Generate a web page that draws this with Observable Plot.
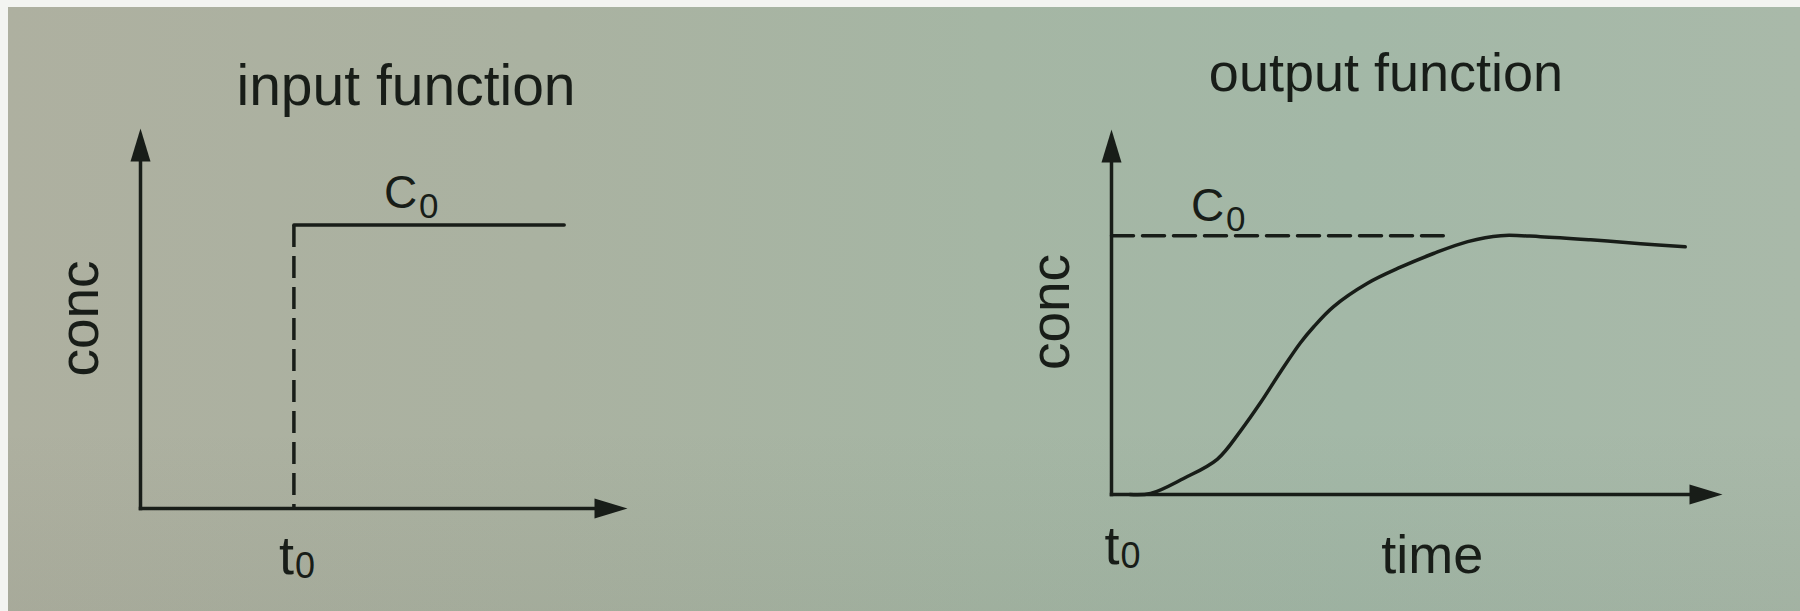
<!DOCTYPE html>
<html>
<head>
<meta charset="utf-8">
<script src="https://cdn.jsdelivr.net/npm/d3@7"></script>
<script src="https://cdn.jsdelivr.net/npm/@observablehq/plot@0.6"></script>
<style>
  html, body { margin: 0; padding: 0; background: #f3f4f0; }
  #page {
    position: relative; width: 1800px; height: 611px; overflow: hidden;
    background:
      linear-gradient(180deg, rgba(0,0,0,0) 70%, rgba(60,70,60,0.06) 100%),
      linear-gradient(90deg, #aeb0a0 0%, #aab2a1 30%, #a5b6a4 55%, #a3b8a7 75%, #a9b9a9 100%);
  }
  #page .edge-top { position: absolute; left: 0; top: 0; width: 1800px; height: 7px; background: #f3f4f1; }
  #page .edge-left { position: absolute; left: 0; top: 0; width: 8px; height: 611px; background: #f3f4f1; }
  .panel { position: absolute; top: 0; }
</style>
</head>
<body>
<div id="page"><div class="edge-top"></div><div class="edge-left"></div></div>
<script>
// Panel titles and axis labels
const titles = ["input function", "output function"];
const concLabel = "conc";
const timeLabel = "time";

// Shared time axis length and the plateau concentration C0
const timeMax = 10;
const c0 = 1;

// Input: step of height C0 switched on at t0
const inputConcMax = 1.34;
const inputT0 = 3.15;
const inputStepTime = [3.15, 8.7];
const inputStepConc = [1, 1];

// Output: S-shaped breakthrough curve that levels off at C0
const outputConcMax = 1.41;
const outputT0 = 0;
const outputTime = [0.3, 0.64, 1.18, 1.73, 2.11, 2.44, 2.77, 3.09, 3.31, 3.63, 4.19, 4.73, 5.27, 5.83, 6.37, 7.02, 7.84, 8.66, 9.39];
const outputConc = [0, 0.004, 0.062, 0.136, 0.245, 0.355, 0.475, 0.585, 0.648, 0.725, 0.816, 0.878, 0.931, 0.977, 1.0, 0.996, 0.984, 0.969, 0.957];
const outputRefTime = [0, 5.43];
const outputRefConc = [1, 1];

const ink = "#181d18";
const font = "'Liberation Sans', Arial, Helvetica, sans-serif";
const lineWidth = 3.5;

// Filled arrowhead with its tip at the origin, pointing along +x
const arrowHead = {
  draw(context, size) {
    const r = Math.sqrt(size / Math.PI);
    context.moveTo(0, 0);
    context.lineTo(-3.3 * r, -r);
    context.lineTo(-3.3 * r, r);
    context.closePath();
  }
};

function axisMarks(concMax) {
  const axes = [
    {x1: 0, y1: 0, x2: timeMax, y2: 0, rot: 0},
    {x1: 0, y1: 0, x2: 0, y2: concMax, rot: -90}
  ];
  return [
    Plot.arrow(axes, {x1: "x1", y1: "y1", x2: "x2", y2: "y2", headLength: 0, insetEnd: 14,
      stroke: ink, strokeWidth: lineWidth, strokeLinecap: "square", strokeLinejoin: "miter"}),
    Plot.dot(axes, {x: "x2", y: "y2", rotate: "rot", symbol: arrowHead, r: 10, fill: ink, stroke: "none"})
  ];
}

function labelMarks(p) {
  const textStyle = {fontFamily: font, fill: ink, lineAnchor: "bottom"};
  return [
    Plot.text([p.title], {frameAnchor: "top", dx: p.titleDx, dy: p.titleDy, fontSize: p.titleSize, ...textStyle}),
    Plot.text([concLabel], {x: 0, y: p.concMax / 2, dx: -60, rotate: -90, fontSize: 55,
      fontFamily: font, fill: ink, lineAnchor: "middle"}),
    // t0 under the axis
    Plot.text(["t"], {x: p.t0, y: 0, dy: p.t0Dy, dx: p.t0Dx, textAnchor: "end", fontSize: 54, ...textStyle}),
    Plot.text(["0"], {x: p.t0, y: 0, dy: p.t0Dy + 4, dx: p.t0Dx + 1, textAnchor: "start", fontSize: 36, ...textStyle}),
    // C0 above the plateau
    Plot.text(["C"], {x: p.c0Time, y: c0, dy: p.c0Dy, textAnchor: "start", fontSize: 46, ...textStyle}),
    Plot.text(["0"], {x: p.c0Time, y: c0, dy: p.c0Dy + 10, dx: 35, textAnchor: "start", fontSize: 35, ...textStyle})
  ];
}

// Left panel: input step
const inputStep = inputStepTime.map((t, i) => ({t, c: inputStepConc[i]}));
const left = Plot.plot({
  width: 900, height: 611,
  marginLeft: 140, marginRight: 273, marginTop: 128, marginBottom: 103,
  x: {domain: [0, timeMax], axis: null},
  y: {domain: [0, inputConcMax], axis: null},
  style: {background: "transparent", overflow: "visible"},
  marks: [
    Plot.link([{t: inputT0, top: c0, bottom: 0}], {x1: "t", y1: "top", x2: "t", y2: "bottom",
      stroke: ink, strokeWidth: lineWidth, strokeDasharray: "22,9"}),
    Plot.line(inputStep, {x: "t", y: "c", stroke: ink, strokeWidth: lineWidth}),
    ...axisMarks(inputConcMax),
    ...labelMarks({title: titles[0], titleDx: 22, titleDy: -24, titleSize: 57, concMax: inputConcMax,
      t0: inputT0, t0Dy: 65, t0Dx: 0, c0Time: 5.0, c0Dy: -17})
  ]
});
left.classList.add("panel");
left.style.left = "0px";

// Right panel: output response
const outputCurve = outputTime.map((t, i) => ({t, c: outputConc[i]}));
const outputRef = outputRefTime.map((t, i) => ({t, c: outputRefConc[i]}));
const right = Plot.plot({
  width: 900, height: 611,
  marginLeft: 211, marginRight: 78, marginTop: 129, marginBottom: 117,
  x: {domain: [0, timeMax], axis: null},
  y: {domain: [0, outputConcMax], axis: null},
  style: {background: "transparent", overflow: "visible"},
  marks: [
    Plot.line(outputRef, {x: "t", y: "c", stroke: ink, strokeWidth: lineWidth, strokeDasharray: "22,9"}),
    Plot.line(outputCurve, {x: "t", y: "c", curve: "catmull-rom", stroke: ink, strokeWidth: lineWidth}),
    ...axisMarks(outputConcMax),
    ...labelMarks({title: titles[1], titleDx: -31, titleDy: -39, titleSize: 54, concMax: outputConcMax,
      t0: outputT0, t0Dy: 69, t0Dx: 8, c0Time: 1.3, c0Dy: -15}),
    Plot.text([timeLabel], {x: timeMax * 0.525, y: 0, dy: 78, textAnchor: "middle", lineAnchor: "bottom",
      fontSize: 54, fontFamily: font, fill: ink})
  ]
});
right.classList.add("panel");
right.style.left = "900px";

const page = document.getElementById("page");
page.appendChild(left);
page.appendChild(right);
</script>
</body>
</html>
